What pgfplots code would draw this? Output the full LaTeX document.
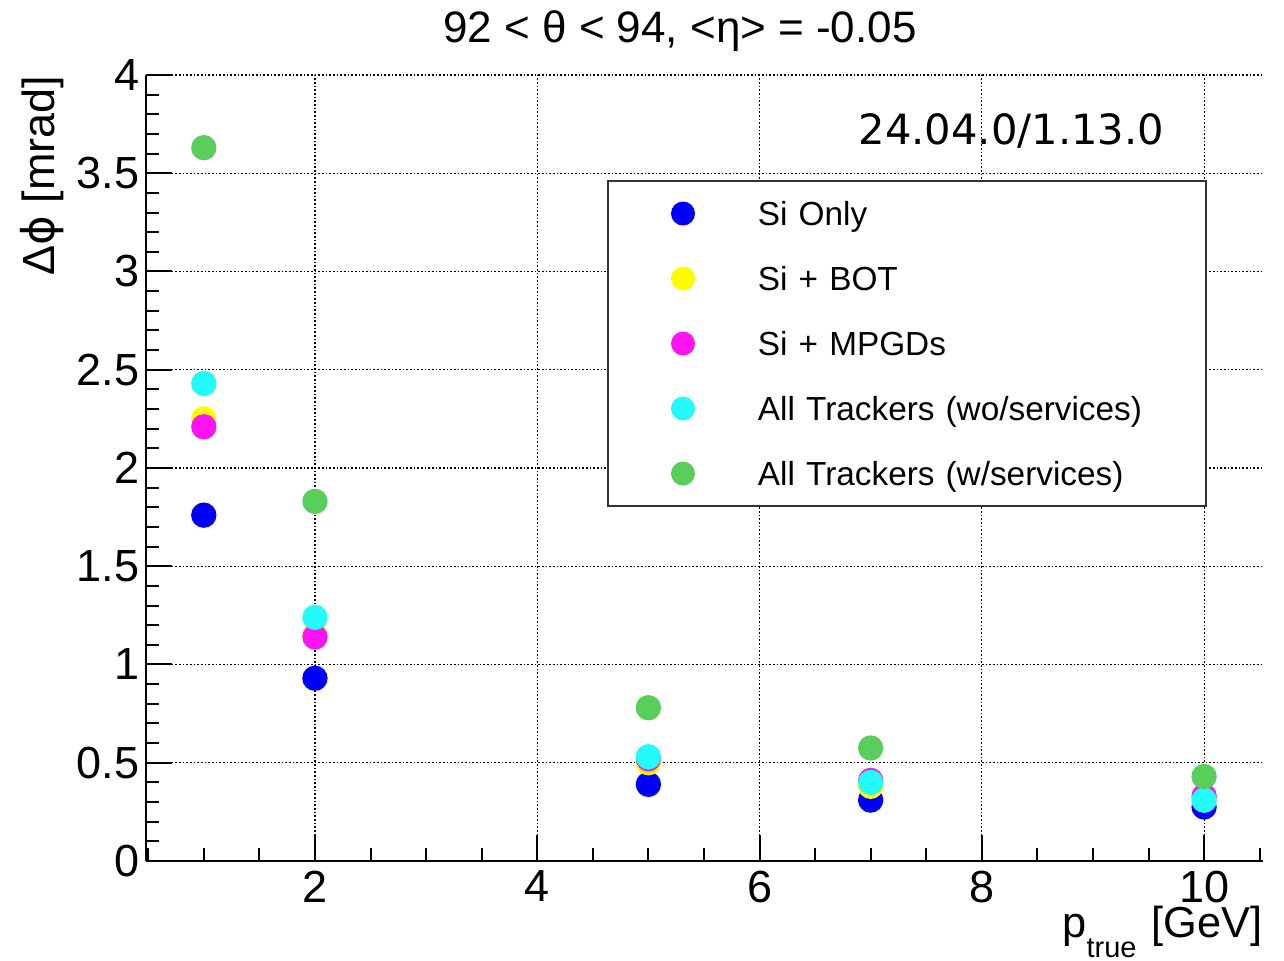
\documentclass[border=0pt]{standalone}
\usepackage{fontspec}
\setmainfont{Liberation Sans}
\newfontfamily\verfont{DejaVu Sans}
\usepackage{pgfplots}
\pgfplotsset{compat=1.18}

\definecolor{cblue}{RGB}{0,0,248}
\definecolor{cyell}{RGB}{255,252,0}
\definecolor{cmag}{RGB}{252,20,242}
\definecolor{ccyan}{RGB}{36,250,250}
\definecolor{cgreen}{RGB}{90,206,90}

\pgfplotsset{dot/.style={only marks, mark=*, mark size=3.6pt, color=#1}}

\begin{document}
\begin{tikzpicture}
\useasboundingbox (-43.8pt,-30pt) rectangle (341.4pt,258.3pt);
\begin{axis}[
  scale only axis, width=335.1pt, height=235.8pt,
  xmin=0.48, xmax=10.53, ymin=0, ymax=4,
  axis x line*=bottom, axis y line*=left,
  axis line style={line width=0.6pt},
  xtick={2,4,6,8,10}, ytick={0,0.5,...,4},
  minor xtick={0.5,1,...,10.5},
  minor ytick={0,0.1,...,4},
  tick align=inside,
  major tick length=7.8pt, minor tick length=3.9pt,
  tick style={black, line width=0.6pt},
  grid=major,
  major grid style={black, line width=0.35pt, dash pattern=on 0.5pt off 0.6pt},
  ticklabel style={font=\fontsize{13.5}{14}\selectfont},
  /pgf/number format/assume math mode=true,
  xticklabel style={inner sep=0pt, yshift=-2.7pt},
  yticklabel style={inner sep=0pt, xshift=-1.8pt},
  legend style={at={(rel axis cs:0.4127,0.8664)}, anchor=north west,
    draw=black!80, line width=0.6pt, fill=white, inner sep=0pt,
    row sep=0pt, column sep=0pt, font=\fontsize{10}{12}\selectfont,
    cells={anchor=west},
    nodes={inner sep=0pt, text width=134.4pt, text height=13.35pt, text depth=6.15pt}},
  legend image code/.code={\path[draw=none,fill=none] (0pt,0pt) -- (45pt,0pt); \fill[#1, draw=none] (22.5pt,0pt) circle (3.6pt);},
]
\addplot[dot=cblue] coordinates {(1,1.76) (2,0.93) (5,0.39) (7,0.31) (10,0.275)};
\addlegendentry{Si Only}
\addplot[dot=cyell] coordinates {(1,2.25) (2,1.15) (5,0.50) (7,0.38) (10,0.31)};
\addlegendentry{Si + BOT}
\addplot[dot=cmag] coordinates {(1,2.21) (2,1.14) (5,0.52) (7,0.41) (10,0.33)};
\addlegendentry{Si + MPGDs}
\addplot[dot=ccyan] coordinates {(1,2.43) (2,1.24) (5,0.53) (7,0.40) (10,0.31)};
\addlegendentry{All Trackers (wo/services)}
\addplot[dot=cgreen] coordinates {(1,3.63) (2,1.83) (5,0.78) (7,0.575) (10,0.43)};
\addlegendentry{All Trackers (w/services)}
\end{axis}
\node[inner sep=0pt, anchor=base, font=\fontsize{13.2}{14}\selectfont] at (160.2pt,245.4pt) {92 < θ < 94, <η> = -0.05};
\node[inner sep=0pt, anchor=base west, font=\verfont\fontsize{12.5}{14}\selectfont] at (213.6pt,214.8pt) {24.04.0/1.13.0};
\node[inner sep=0pt, anchor=base east, rotate=90, font=\fontsize{13.5}{14}\selectfont] at (-27.3pt,235.8pt) {Δ{\verfont ϕ} [mrad]};
\node[inner sep=0pt, anchor=base east, font=\fontsize{13}{14}\selectfont] at (335.1pt,-23.1pt) {p\raisebox{-6pt}{\fontsize{8.7}{9}\selectfont true}\hspace{4.5pt}[GeV]};
\end{tikzpicture}
\end{document}
